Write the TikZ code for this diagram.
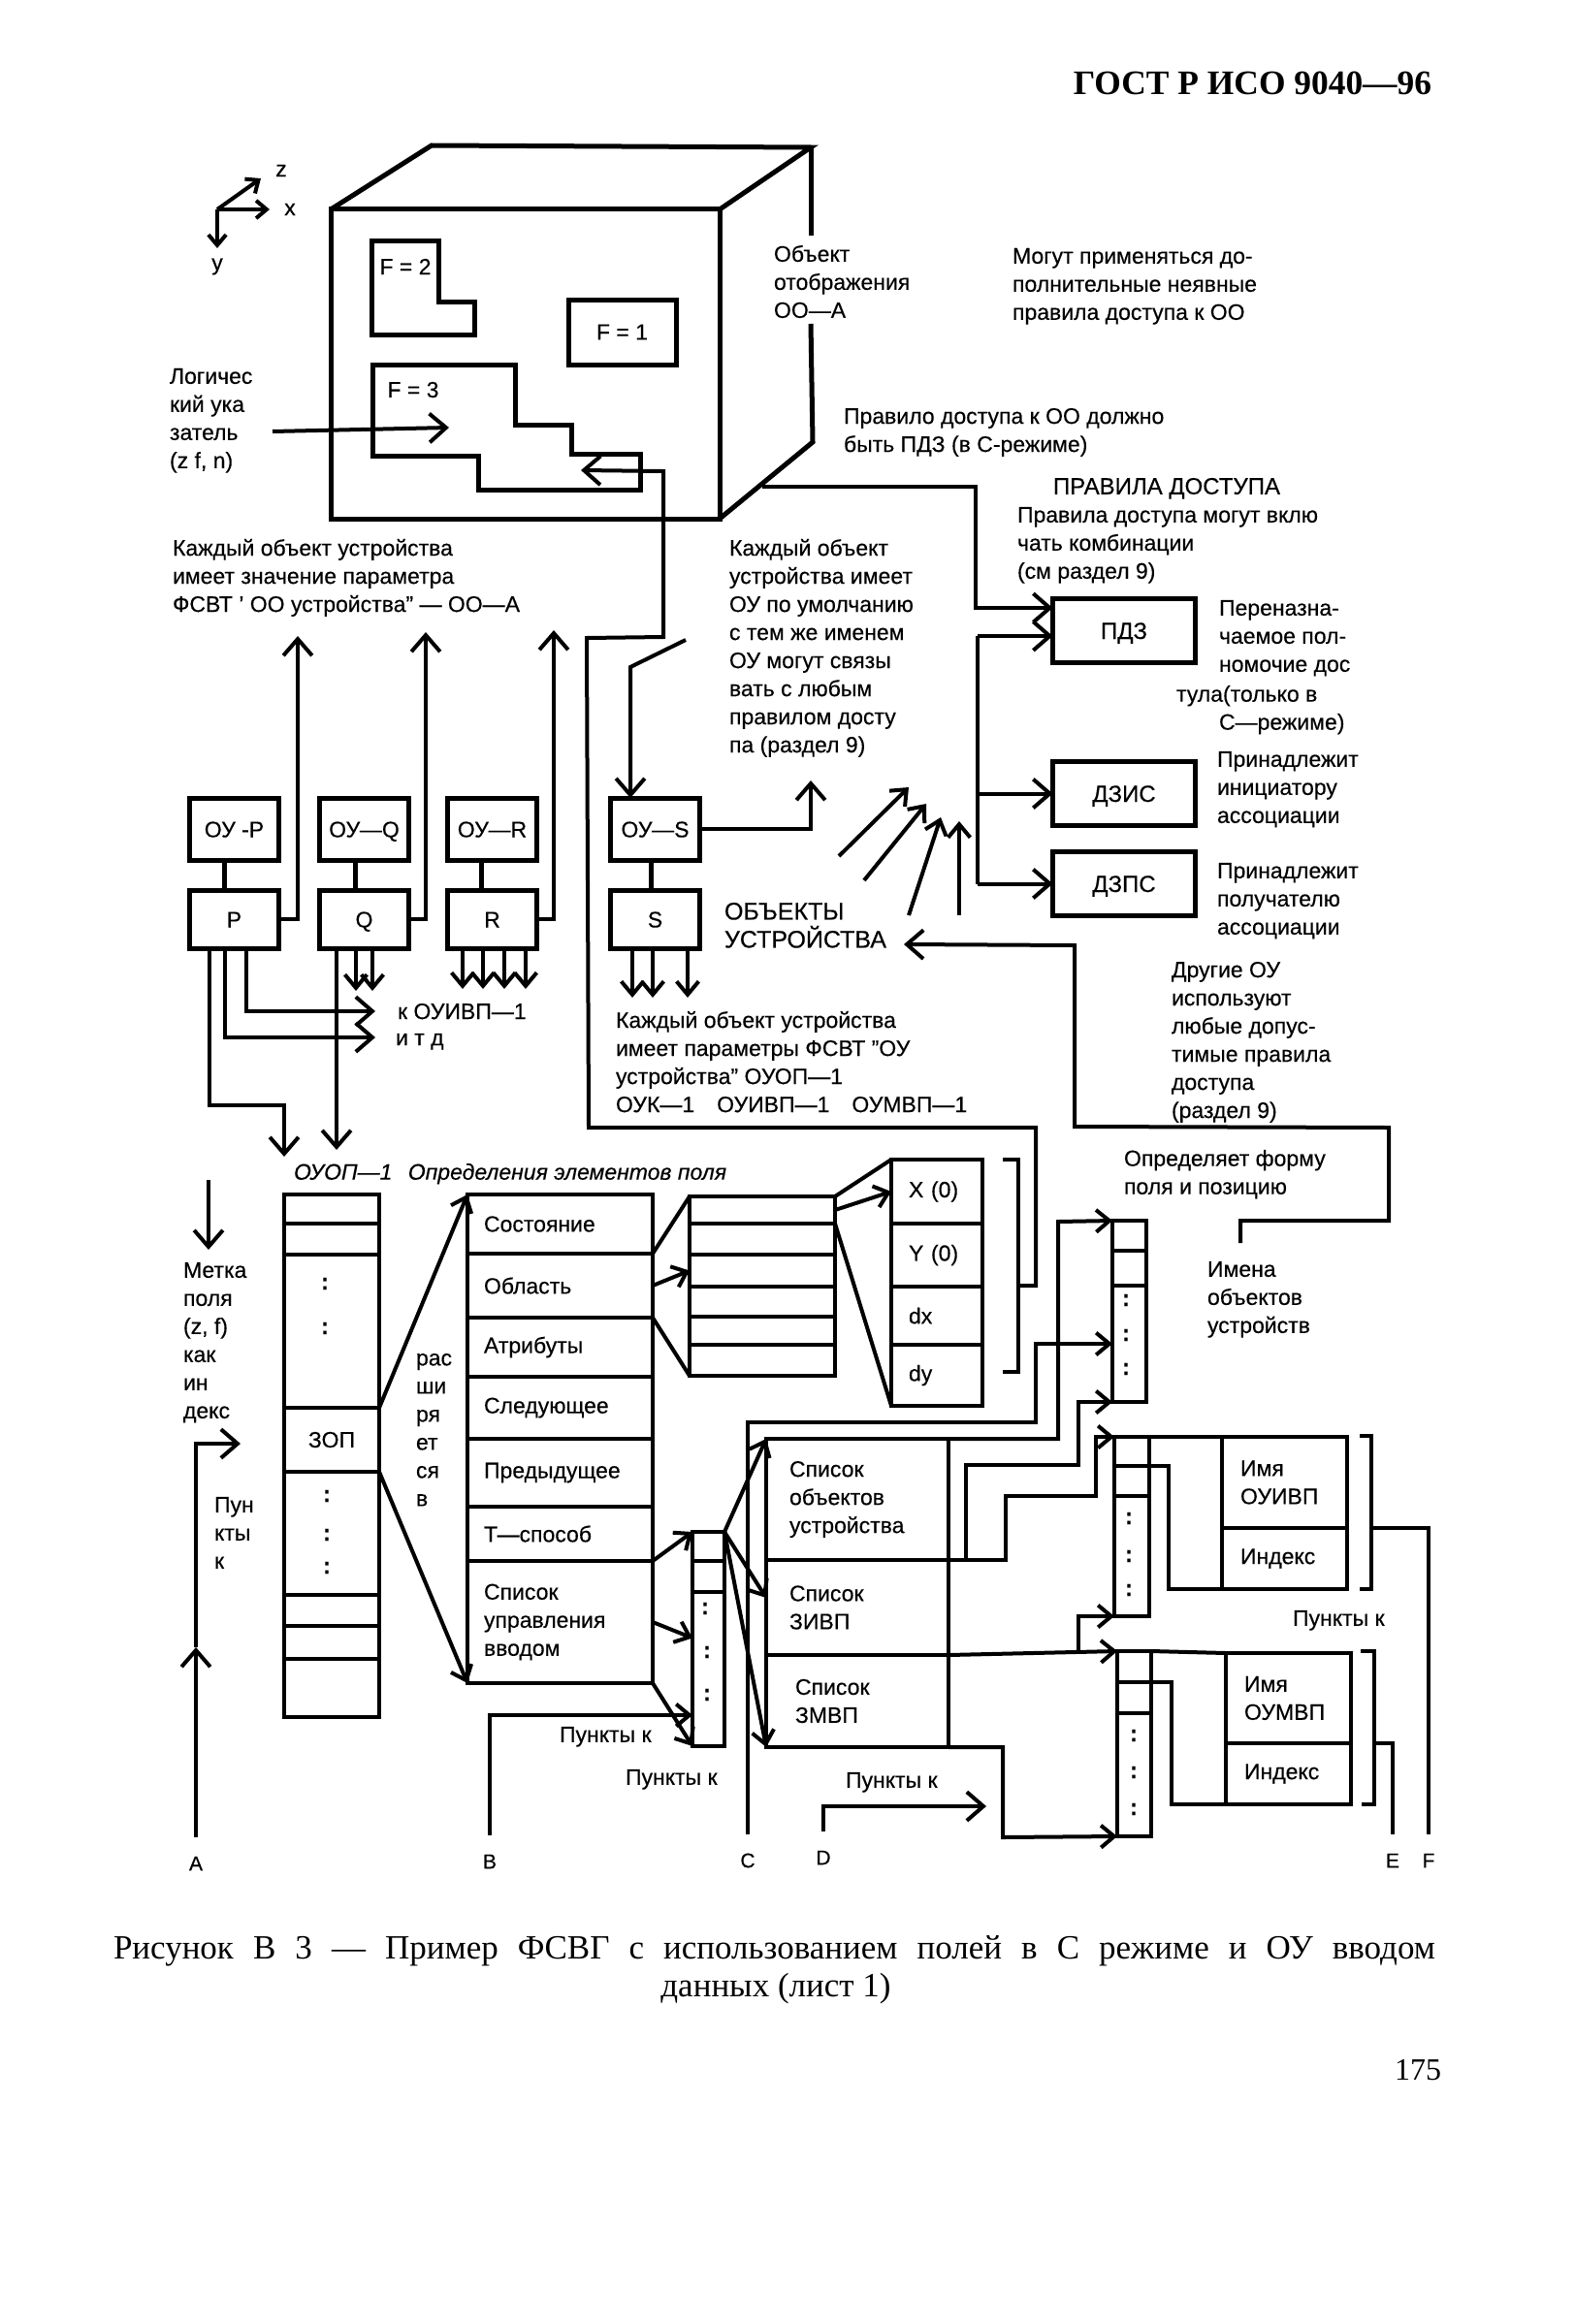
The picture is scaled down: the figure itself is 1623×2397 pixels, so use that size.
\documentclass[tikz,border=0pt]{standalone}
\usepackage{fontspec}
\setmainfont{Liberation Sans}[FakeBold=0.3]
\newfontfamily\serifcap{Liberation Serif}
\usetikzlibrary{arrows.meta, positioning}

\begin{document}
\begin{tikzpicture}[
      x=0.5pt, y=-0.5pt,
      font=\fontsize{11.5}{14.5}\selectfont,
      line width=2pt,
      node distance=0pt,
      arr/.style={-{Straight Barb[length=3mm,width=5.2mm]}},
      arrs/.style={-{Straight Barb[length=2.4mm,width=4mm]}},
      arrt/.style={-{Straight Barb[length=1.9mm,width=3.2mm]}},
      txt/.style={anchor=north west, inner sep=0pt, align=left},
      lettr/.style={inner sep=9pt, font=\fontsize{10.5}{12}\selectfont},
      dotz/.style={inner sep=0pt, font=\fontsize{12}{12}\selectfont\bfseries},
      devbox/.style={draw, line width=2.5pt, outer sep=0pt, minimum width=46pt, minimum height=32pt, text height=8.5pt, text depth=0pt},
      ctlbox/.style={devbox, minimum height=30pt},
      rulebox/.style={devbox, minimum width=73.5pt, minimum height=33pt, font=\fontsize{12}{14}\selectfont},
      rowbox/.style={draw, outer sep=0pt, inner ysep=0pt, align=left},
      zoprow/.style={rowbox, minimum width=49pt},
      fieldrow/.style={rowbox, text width=78.5pt, inner xsep=8.5pt},
      arearow/.style={rowbox, minimum width=75pt},
      xyrow/.style={rowbox, text width=29pt, inner xsep=9pt},
      listrow/.style={rowbox, text width=70pt, inner xsep=12pt},
      colrow/.style={rowbox, minimum width=17.5pt},
      namerow/.style={rowbox, text width=45.5pt, inner xsep=9.5pt}
    ]
    \useasboundingbox (0,0) rectangle (1623,2397);

    % Page texts
    \node[anchor=east, inner sep=0pt, font=\serifcap\bfseries\fontsize{17.7}{20}\selectfont] (header) at (1478,86) {ГОСТ Р ИСО 9040—96};
    \node[anchor=west, inner sep=0pt, font=\serifcap\fontsize{17.5}{20}\selectfont] (capA) at (115,2012) {\makebox[681.5pt][s]{Рисунок В 3 — Пример ФСВГ с использованием полей в С режиме и ОУ вводом}};
    \node[inner sep=0pt, font=\serifcap\fontsize{17.5}{20}\selectfont] (capB) at (800,2051) {данных (лист 1)};
    \node[anchor=east, inner sep=0pt, font=\serifcap\fontsize{16}{20}\selectfont] (pageno) at (1488,2135) {175};

    % Axes
    \coordinate (axO) at (224,216);
    \coordinate (axZ) at (269,184);
    \coordinate (axX) at (278,216);
    \coordinate (axY) at (224,256);
    \draw[arrt] (axO) -- (axZ);
    \draw[arrt] (axO) -- (axX);
    \draw[arrt] (axO) -- (axY);
    \node[inner sep=0pt] (labelZ) at (290,176) {z};
    \node[inner sep=0pt] (labelX) at (299,216) {x};
    \node[inner sep=0pt] (labelY) at (224,275) {у};

    % Display object
    \node[draw, line width=2.5pt, outer sep=0pt, minimum width=200.5pt, minimum height=159.5pt] (cube) at (541.5,375.5) {};
    \draw[line width=2.5pt] (cube.north west) -- (445,150) -- (836,152) -- (cube.north east);
    \draw[line width=2.5pt] (836,152) -- (836,243);
    \draw[line width=2.5pt] (836,334) -- (838,456) -- (cube.south east);
    \draw[line width=2.5pt] (383,249) -- (452,249) -- (452,311) -- (489,311) -- (489,345) -- (383,345) -- cycle;
    \node[inner sep=0pt] (tF2) at (418,275) {F = 2};
    \node[draw, line width=2.5pt, outer sep=0pt, minimum width=55.5pt, minimum height=33.5pt] (F1) at (641.5,342.5) {F = 1};
    \draw[line width=2.5pt] (384,376) -- (531,376) -- (531,438) -- (589,438) -- (589,468) -- (660,468) -- (660,505) -- (493,505) -- (493,470) -- (384,470) -- cycle;
    \node[inner sep=0pt] (tF3) at (426,402) {F = 3};

    % Texts round the display object
    \node[txt] (tPointer) at (173,378) {Логичес\\кий ука\\затель\\ (z f, n)};
    \node[txt] (tObject) at (796,251) {Объект\\отображения\\ОО—А};
    \node[txt] (tMay) at (1042,254) {Могут применяться до-\\полнительные неявные\\правила доступа к ОО};
    \node[txt] (tRule) at (868,419) {Правило доступа к ОО должно\\быть ПДЗ (в С-режиме)};
    \node[txt] (tEach) at (176,554) {Каждый объект устройства\\имеет значение параметра\\ФСВТ ’ ОО устройства” — ОО—А};
    \node[txt] (tDefault) at (750,554) {Каждый объект\\устройства имеет\\ОУ по умолчанию\\с тем же именем\\ОУ могут связы\\вать с любым\\правилом досту\\па (раздел 9)};

    % Device objects
    \node[devbox] (OYP) at (241.5,855) {ОУ -Р};
    \node[ctlbox, below=15.5pt of OYP] (P) {Р};
    \node[devbox, right=21pt of OYP] (OYQ) {ОУ—Q};
    \node[ctlbox, below=15.5pt of OYQ] (Q) {Q};
    \node[devbox, right=20pt of OYQ] (OYR) {ОУ—R};
    \node[ctlbox, below=15.5pt of OYR] (R) {R};
    \node[devbox, right=38pt of OYR] (OYS) {ОУ—S};
    \node[ctlbox, below=15.5pt of OYS] (S) {S};
    \node[txt, font=\fontsize{12.5}{14.5}\selectfont] (tObjects) at (745,929) {ОБЪЕКТЫ\\УСТРОЙСТВА};
    \node[txt] (tToOui) at (408,1033) {к ОУИВП—1};
    \node[txt] (tEtc) at (406,1064) {и т д};
    \node[txt] (tParams) at (633,1041) {Каждый объект устройства\\имеет параметры ФСВТ ”ОУ\\устройства” ОУОП—1\\ОУК—1\quad ОУИВП—1\quad ОУМВП—1};

    \draw[line width=2.5pt] ([xshift=-5pt]OYP.south) -- ([xshift=-5pt]P.north);
    \draw[line width=2.5pt] ([xshift=-4.5pt]OYQ.south) -- ([xshift=-4.5pt]Q.north);
    \draw[line width=2.5pt] ([xshift=-5.5pt]OYR.south) -- ([xshift=-5.5pt]R.north);
    \draw[line width=2.5pt] ([xshift=-2pt]OYS.south) -- ([xshift=-2pt]S.north);

    \coordinate (topP) at (307,656);
    \coordinate (topQ) at (439,652);
    \coordinate (topR) at (571,650);
    \coordinate (topS) at (836,805);
    \draw[arr] (P.east) -| (topP);
    \draw[arr] (Q.east) -| (topQ);
    \draw[arr] (R.east) -| (topR);
    \draw[arr] (OYS.east) -| (topS);

    \coordinate (toOui) at (387,1043);
    \coordinate (toEtc) at (387,1070);
    \coordinate (inP) at (293,1193);
    \coordinate (inQ) at (347,1186);
    \draw[arr] ([xshift=6.25pt]P.south) |- (toOui);
    \draw[arr] ([xshift=-4.75pt]P.south) |- (toEtc);
    \draw[arr] ([xshift=-12.75pt]P.south) |- (293,1140) -- (inP);
    \draw[arr] (Q.south -| inQ) -- (inQ);

    \coordinate (qA) at (367,1022);
    \coordinate (qB) at (384,1022);
    \draw[arrs] (Q.south -| qA) -- (qA);
    \draw[arrs] (Q.south -| qB) -- (qB);
    \coordinate (rA) at (477,1020);
    \coordinate (rB) at (498,1020);
    \coordinate (rC) at (520,1020);
    \coordinate (rD) at (542,1020);
    \draw[arrs] (R.south -| rA) -- (rA);
    \draw[arrs] (R.south -| rB) -- (rB);
    \draw[arrs] (R.south -| rC) -- (rC);
    \draw[arrs] (R.south -| rD) -- (rD);
    \coordinate (sA) at (652,1029);
    \coordinate (sB) at (673,1029);
    \coordinate (sC) at (709,1029);
    \draw[arrs] (S.south -| sA) -- (sA);
    \draw[arrs] (S.south -| sB) -- (sB);
    \draw[arrs] (S.south -| sC) -- (sC);

    % Access rules
    \node[txt, font=\fontsize{12}{14}\selectfont] (tRules) at (1084,491) {ПРАВИЛА ДОСТУПА};
    \node[txt] (tRulesMay) at (1047,521) {Правила доступа могут вклю\\чать комбинации\\ (см раздел 9)};
    \node[rulebox] (PDZ) at (1159,650.5) {ПДЗ};
    \node[rulebox, below=51pt of PDZ] (DZIS) {ДЗИС};
    \node[rulebox, below=13.5pt of DZIS] (DZPS) {ДЗПС};
    \node[txt] (tReassign) at (1255,617) {Переназна-\\чаемое пол-\\номочие дос};
    \node[txt] (tReassignB) at (1211,705) {тула(только в\\ \hspace{22pt}С—режиме)};
    \node[txt] (tInit) at (1253,773) {Принадлежит\\инициатору\\ассоциации};
    \node[txt] (tResp) at (1253,888) {Принадлежит\\получателю\\ассоциации};
    \node[txt] (tOther) at (1206,990) {Другие ОУ\\используют\\любые допус-\\тимые правила\\доступа\\ (раздел 9)};

    \coordinate (cubeOut) at (786,502);
    \coordinate (busTop) at (1008,656);
    \coordinate (busBot) at (1008,911.5);
    \draw[arr] (cubeOut) -- (1006,502) |- ([yshift=11.75pt]PDZ.west);
    \draw[arr] (busTop) -- (busTop -| PDZ.west);
    \draw (busTop) -- (busBot);
    \draw[arr] (busBot |- DZIS.west) -- (DZIS.west);
    \draw[arr] (busBot) -- (DZPS.west);

    % Arrows to the device objects
    \coordinate (obA) at (865,883);
    \coordinate (obB) at (937,812);
    \coordinate (obC) at (891,908);
    \coordinate (obD) at (955,829);
    \coordinate (obE) at (937,944);
    \coordinate (obF) at (970,843);
    \coordinate (obG) at (989,944);
    \coordinate (obH) at (989,847);
    \draw[arrs] (obA) -- (obB);
    \draw[arrs] (obC) -- (obD);
    \draw[arrs] (obE) -- (obF);
    \draw[arrs] (obG) -- (obH);
    \coordinate (formEnd) at (1279,1282);
    \coordinate (objTip) at (932,974);
    \draw[arr] (formEnd) -- (1279,1259) -- (1432,1259) -- (1432,1163) -- (1108,1162) -- (1108,975) -- (objTip);

    % Field definitions
    \node[txt, font=\itshape\fontsize{11.5}{14.5}\selectfont] (tDefs) at (301,1198) {ОУОП—1\hspace{5pt} Определения элементов поля};
    \node[zoprow, minimum height=15pt, anchor=north west] (zopA) at (293,1232) {};
    \node[zoprow, minimum height=16pt, below=of zopA] (zopB) {};
    \node[zoprow, minimum height=79pt, below=of zopB] (zopC) {};
    \node[zoprow, minimum height=33pt, below=of zopC] (zopD) {ЗОП};
    \node[zoprow, minimum height=63.5pt, below=of zopD] (zopE) {};
    \node[zoprow, minimum height=16pt, below=of zopE] (zopF) {};
    \node[zoprow, minimum height=17pt, below=of zopF] (zopG) {};
    \node[zoprow, minimum height=30pt, below=of zopG] (zopH) {};
    \node[dotz] (dotA) at (335,1324) {:};
    \node[dotz] (dotB) at (335,1370) {:};
    \node[dotz] (dotC) at (337,1543) {:};
    \node[dotz] (dotD) at (337,1583) {:};
    \node[dotz] (dotE) at (337,1617) {:};

    \node[fieldrow, minimum height=30.5pt, anchor=north west] (fieldA) at (482,1232) {Состояние};
    \node[fieldrow, minimum height=33pt, below=of fieldA] (fieldB) {Область};
    \node[fieldrow, minimum height=30.5pt, below=of fieldB] (fieldC) {Атрибуты};
    \node[fieldrow, minimum height=32pt, below=of fieldC] (fieldD) {Следующее};
    \node[fieldrow, minimum height=35pt, below=of fieldD] (fieldE) {Предыдущее};
    \node[fieldrow, minimum height=28pt, below=of fieldE] (fieldF) {Т—способ};
    \node[fieldrow, minimum height=63pt, below=of fieldF] (fieldG) {Список\\управления\\вводом};

    \node[arearow, minimum height=14pt, anchor=north west] (areaA) at (711,1234) {};
    \node[arearow, minimum height=16pt, below=of areaA] (areaB) {};
    \node[arearow, minimum height=16.5pt, below=of areaB] (areaC) {};
    \node[arearow, minimum height=15.5pt, below=of areaC] (areaD) {};
    \node[arearow, minimum height=14.5pt, below=of areaD] (areaE) {};
    \node[arearow, minimum height=16pt, below=of areaE] (areaF) {};

    \node[xyrow, minimum height=33pt, anchor=north west] (xyA) at (919,1196) {X (0)};
    \node[xyrow, minimum height=32.5pt, below=of xyA] (xyB) {Y (0)};
    \node[xyrow, minimum height=30pt, below=of xyB] (xyC) {dx};
    \node[xyrow, minimum height=31.5pt, below=of xyC] (xyD) {dy};

    \draw[arrs] (zopC.south east) -- (fieldA.north west);
    \draw[arrs] (zopD.south east) -- (fieldG.south west);
    \draw (fieldA.south east) -- (areaA.north west);
    \draw[arrs] (fieldB.east) -- (areaC.west);
    \draw (fieldC.north east) -- (areaF.south west);
    \draw (areaA.north east) -- (xyA.north west);
    \draw[arrs] (areaA.east) -- (xyA.west);
    \draw (areaA.south east) -- (xyD.south west);

    % Left hand labels
    \coordinate (markA) at (215,1217);
    \coordinate (markB) at (215,1289);
    \draw[arr] (markA) -- (markB);
    \node[txt] (tMark) at (187,1300) {Метка\\поля\\ (z, f)\\как\\ин\\декс};
    \node[txt] (tPunA) at (219,1542) {Пун\\кты\\к};
    \node[txt] (tExpand) at (427,1394) {рас\\ши\\ря\\ет\\ся\\в};

    % Pointer to the display object
    \coordinate (ptrStart) at (281,445);
    \coordinate (ptrEnd) at (463,441);
    \draw[arr] (ptrStart) -- (ptrEnd);
    \coordinate (braceXY) at (1050,1326);
    \coordinate (ptrTip) at (599,485);
    \draw[arr] (braceXY) -- (1068,1326) -- (1068,1163) -- (607,1163) -- (605,658) -- (684,657) -- (684,486) -- (ptrTip);
    \coordinate (slashTop) at (707,660);
    \coordinate (slashBend) at (650,688);
    \draw[arr] (slashTop) -- (slashBend) -- (slashBend |- OYS.north);
    \draw (1034,1196) -- (1050,1196) -- (1050,1415) -- (1034,1415);

    % Input control list
    \node[colrow, minimum width=16.5pt, minimum height=15pt, anchor=north west] (smallA) at (714,1580) {};
    \node[colrow, minimum width=16.5pt, minimum height=16pt, below=of smallA] (smallB) {};
    \node[colrow, minimum width=16.5pt, minimum height=79.5pt, below=of smallB] (smallC) {};
    \node[dotz] (dotF) at (727,1659) {:};
    \node[dotz] (dotG) at (729,1704) {:};
    \node[dotz] (dotH) at (729,1748) {:};

    \node[listrow, minimum height=62.5pt, anchor=north west] (listA) at (790,1484) {Список\\объектов\\устройства};
    \node[listrow, minimum height=49pt, below=of listA] (listB) {Список\\ЗИВП};
    \node[listrow, minimum height=47.5pt, below=of listB] (listC) {\hspace{3pt}Список\\ \hspace{3pt}ЗМВП};

    \draw[arrs] (fieldF.south east) -- (smallA.north west);
    \draw[arrs] (fieldG.east) -- ([yshift=16pt]smallC.west);
    \draw[arrs] (fieldG.south east) -- (smallC.south west);
    \draw[arrs] (smallA.north east) -- (listA.north west);
    \draw[arrs] (smallA.north east) -- ([yshift=5pt]listB.west);
    \draw[arrs] (smallA.north east) -- (listC.south west);

    % Device object names
    \node[colrow, minimum height=15.5pt, anchor=north west] (nameA) at (1147,1259) {};
    \node[colrow, minimum height=18pt, below=of nameA] (nameB) {};
    \node[colrow, minimum height=60pt, below=of nameB] (nameC) {};
    \node[dotz] (dotI) at (1161,1341) {:};
    \node[dotz] (dotJ) at (1161,1377) {:};
    \node[dotz] (dotK) at (1161,1412) {:};

    \node[txt] (tForm) at (1157,1184) {Определяет форму\\ поля и позицию};
    \node[txt] (tNames) at (1243,1299) {Имена\\объектов\\устройств};

    % Input device lists
    \node[colrow, minimum width=18pt, minimum height=15pt, anchor=north west] (inA) at (1149,1482) {};
    \node[colrow, minimum width=18pt, minimum height=15.5pt, below=of inA] (inB) {};
    \node[colrow, minimum width=18pt, minimum height=62pt, below=of inB] (inC) {};
    \node[dotz] (dotL) at (1164,1566) {:};
    \node[dotz] (dotM) at (1164,1605) {:};
    \node[dotz] (dotN) at (1164,1640) {:};
    \node[namerow, minimum height=47pt, anchor=north west] (nameI) at (1260,1482) {Имя\\ОУИВП};
    \node[namerow, minimum height=31.5pt, below=of nameI] (indexI) {Индекс};
    \node[txt] (tPunB) at (1331,1659) {Пункты к};

    \node[colrow, minimum height=16pt, anchor=north west] (outA) at (1152,1703) {};
    \node[colrow, minimum height=16pt, below=of outA] (outB) {};
    \node[colrow, minimum height=63.5pt, below=of outB] (outC) {};
    \node[dotz] (dotO) at (1169,1790) {:};
    \node[dotz] (dotP) at (1169,1828) {:};
    \node[dotz] (dotQ) at (1169,1866) {:};
    \node[namerow, minimum height=46.5pt, anchor=north west] (nameM) at (1264,1705) {Имя\\ОУМВП};
    \node[namerow, minimum height=31.5pt, below=of nameM] (indexM) {Индекс};

    \draw (inA.north east) -- (nameI.north west);
    \draw (inA.south east) -| (1205,1639) -- (indexI.south west);
    \draw (outA.north east) -- (nameM.north west);
    \draw (outA.south east) -| (1208,1861) -- (indexM.south west);
    \draw (1402,1481) -- (1414,1481) -- (1414,1639) -- (1402,1639);
    \draw (1403,1703) -- (1417,1703) -- (1417,1861) -- (1404,1861);

    \coordinate (busA) at (996,1609);
    \coordinate (busB) at (1112,1705);
    \draw[arrs] (listA.north east) -| (1091,1260) -- (nameA.north west);
    \draw[arrs] (listA.south east) -| (1037,1543) -| (1130,1482) -- (inA.north west);
    \draw[arrs] (busA) |- (1112,1511) |- (nameC.south west);
    \draw[arrs] (listB.south east) -- (outA.north west);
    \draw[arrs] (busB) |- (inC.south west);
    \draw[arrs] (listC.south east) -| (1034,1895) -- (outC.south west);

    % Entry points
    \node[lettr] (labelA) at (202,1922) {А};
    \node[lettr] (labelB) at (505,1920) {В};
    \node[lettr] (labelC) at (771,1919) {С};
    \node[lettr] (labelD) at (849,1916) {D};
    \node[lettr] (labelE) at (1436,1919) {Е};
    \node[lettr] (labelF) at (1473,1919) {F};
    \coordinate (midA) at (202,1699);
    \coordinate (tipA) at (248,1489);
    \coordinate (tipB) at (714,1769);
    \coordinate (tipD) at (1017,1863);
    \coordinate (outI) at (1414,1576);
    \coordinate (outM) at (1417,1798);
    \draw[arr] (labelA.north) -- (midA);
    \draw[arr] (midA) |- (tipA);
    \draw[arrs] (labelB.north) |- (tipB);
    \draw[arrs] (labelC.north) |- (1068,1467) |- (nameC.west);
    \draw[arr] (labelD.north) |- (tipD);
    \draw (outI) -| (labelF.north);
    \draw (outM) -| (labelE.north);
    \node[txt] (tPunC) at (575,1779) {Пункты к};
    \node[txt] (tPunD) at (643,1823) {Пункты к};
    \node[txt] (tPunE) at (870,1826) {Пункты к};

  \end{tikzpicture}
\end{document}
